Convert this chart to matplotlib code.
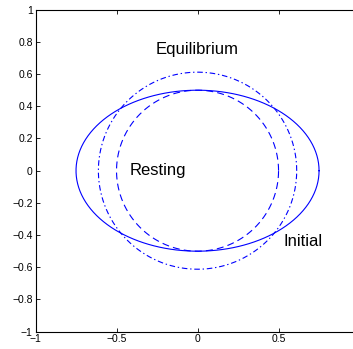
import numpy as np
import matplotlib
matplotlib.use("Agg")
from matplotlib import pyplot as plt

plt.rcParams['font.family'] = ['Liberation Sans', 'DejaVu Sans']
plt.rcParams['lines.scale_dashes'] = False

# shapes: (semi-axis x, semi-axis y, dash pattern in points)
names = ['Initial', 'Resting', 'Equilibrium']
semi_x = [0.75, 0.5, 0.612]
semi_y = [0.5, 0.5, 0.612]
dash_patterns = [None, (5, 3), (4, 2, 1, 2)]

labels = ['Equilibrium', 'Resting', 'Initial']
label_x = [0.0, -0.42, 0.53]
label_y = [0.75, 0.0, -0.44]
label_ha = ['center', 'left', 'left']

xticks = [-1, -0.5, 0, 0.5]
yticks = [-1, -0.8, -0.6, -0.4, -0.2, 0, 0.2, 0.4, 0.6, 0.8, 1]

fig = plt.figure(figsize=(3.53, 3.49), dpi=100)
ax = fig.add_axes([0.1006, 0.0496, 0.918, 0.9226])

t = np.linspace(0, 2 * np.pi, 400)
for a, b, dp in zip(semi_x, semi_y, dash_patterns):
    line, = ax.plot(a * np.cos(t), b * np.sin(t), color='blue', linewidth=0.8)
    if dp is not None:
        line.set_dashes(dp)

for s, x, y, ha in zip(labels, label_x, label_y, label_ha):
    ax.text(x, y, s, fontsize=12, ha=ha, va='center')

ax.set_xlim(-1, 1)
ax.set_ylim(-1, 1)
ax.set_xticks(xticks)
ax.set_yticks(yticks)
ax.set_xticklabels(['\u22121', '\u22120.5', '0', '0.5'])
ax.set_yticklabels([('\u2212' + f'{abs(v):g}') if v < 0 else f'{v:g}' for v in yticks])
ax.tick_params(direction='in', labelsize=7.5, length=3, width=0.6, top=True, right=True, pad=2)
for sp in ax.spines.values():
    sp.set_linewidth(0.8)

fig.savefig('out.png', dpi=100)
